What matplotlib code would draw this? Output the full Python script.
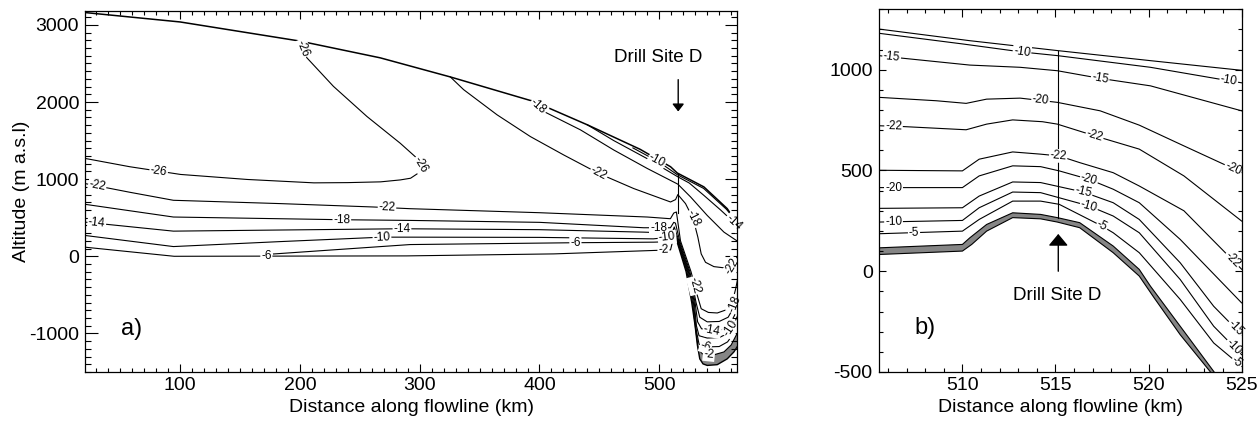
import numpy as np
import matplotlib
matplotlib.use("Agg")
import matplotlib.pyplot as plt
from matplotlib.ticker import MultipleLocator

plt.rcParams['font.family'] = ['Liberation Sans', 'DejaVu Sans']
plt.rcParams['axes.unicode_minus'] = False

# ---------------- panel a: whole flowline ----------------
surf_a_km = [20.6, 100, 200, 267, 325.6, 395, 440, 484, 509.4, 515, 537.2, 556.7, 566]
surf_a_m = [3160, 3038, 2790, 2573, 2325, 2008, 1704, 1387, 1161, 1080, 900, 618, 400]

c26_km = [200, 205.8, 228, 256, 283.8, 296.3, 300.5, 298.5, 292.4, 283.8, 267.4, 240, 211.7, 156, 100.4, 58, 20.6]
c26_m = [2790, 2574, 2203, 1812, 1465, 1291, 1182, 1075, 1012, 990, 965, 955, 952, 996, 1061, 1161, 1269]

c22_km = [20.6, 58, 94.4, 183.5, 261.5, 292, 400, 490, 509.3, 512.1, 514.3, 517.7, 526.5, 531.6, 535,
          541, 548.4, 556.7, 561.5, 563.8, 566]
c22_m = [943, 830, 726, 683, 639, 617, 565, 509, 487, 561, 574, 200, -200, -500, -680,
         -728, -735, -690, -560, -420, -250]

c18_km = [20.6, 94.4, 235, 292, 400, 487, 509.3, 512.1, 513.5, 517.0, 525.6, 530.7, 533.8, 540, 550,
          557.5, 561.5, 564, 566]
c18_m = [674, 509, 474, 465, 440, 370, 370, 440, 430, 200, -200, -600, -790, -850, -845,
         -790, -680, -580, -470]

c14_km = [20.6, 94.4, 285, 400, 487, 510.7, 512.5, 516.4, 524.9, 529.9, 532.0, 535.3, 544, 553, 559, 563, 566]
c14_m = [443, 326, 357, 345, 313, 300, 380, 200, -200, -600, -850, -940, -965, -950, -880, -760, -620]

c10_km = [20.6, 94.4, 183, 268.5, 292, 400, 495, 509.3, 512.5, 515.9, 524.3, 529.2, 531.0, 533.2, 540,
          550, 557, 562.5, 566]
c10_m = [270, 126, 190, 248, 248, 245, 226, 248, 330, 200, -200, -600, -900, -1030, -1060,
         -1055, -1000, -870, -750]

c6_km = [178, 292, 430, 495.5, 509.4, 512.5, 515.5, 523.7, 528.5, 530.8, 533.2, 540, 550, 557, 562.5, 566]
c6_m = [30, 152, 176, 183, 190, 300, 200, -200, -600, -950, -1140, -1175, -1170, -1110, -990, -880]

c2_km = [20.6, 95, 289, 412, 509.4, 512.5, 515.1, 523.1, 527.8, 530.4, 532.6, 536, 545, 554, 560, 566]
c2_m = [118, 0, 5, 31, 83, 280, 200, -200, -600, -950, -1200, -1265, -1280, -1240, -1150, -970]

bed_a_km = [512.5, 514.6, 522.4, 527.1, 529.9, 531.8, 533.8, 536.5, 540, 548.4, 556.7, 562.3, 566]
bed_a_m = [270, 200, -200, -600, -900, -1150, -1330, -1395, -1415, -1405, -1330, -1240, -1150]

# isotherms reaching down from the surface
t22_km = [325.6, 336.7, 364.6, 392.4, 420.3, 449.5, 478.7, 509.4, 513.6, 515.5, 521.9, 528.3, 532.2,
          535, 538.6, 545.6, 555.3, 560.5, 563.5, 566]
t22_m = [2325, 2160, 1834, 1552, 1313, 1074, 878, 704, 735, 800, 683, 487, 248,
         31, -78, -134, -152, -140, -60, 30]

t18_km = [393, 403.5, 434.2, 462, 489.9, 515.5, 526.1, 540, 554, 566.5]
t18_m = [2020, 1878, 1639, 1378, 1139, 935, 770, 530, 313, 183]

t14_km = [440, 462, 490, 515.5, 525, 537.2, 551.2, 562.3, 566]
t14_m = [1704, 1500, 1265, 1030, 950, 790, 600, 440, 395]

t10_km = [478, 500, 515, 537, 556, 563]
t10_m = [1405, 1220, 1058, 880, 610, 480]

drill_a_km = 515.5
drill_a_m = [1070, 560]

# (line, km, m, text) for the contour labels in panel a
labels_a = [
    ('c26', 200.3, 2682, '-26'), ('c26', 300.5, 1182, '-26'), ('c26', 81.9, 1082, '-26'),
    ('c22', 30.4, 880, '-22'), ('c22', 272.7, 631, '-22'), ('c22', 529.5, -380, '-22'),
    ('c18', 235, 474, '-18'), ('c18', 499.6, 372, '-18'), ('c18', 563.0, -620, '-18'),
    ('c14', 30.4, 422, '-14'), ('c14', 285.2, 357, '-14'), ('c14', 544, -962, '-14'),
    ('c10', 268.5, 248, '-10'), ('c10', 506.5, 240, '-10'), ('c10', 559.5, -935, '-10'),
    ('c6', 430, 176, '-6'), ('c6', 538.6, -1172, '-6'),
    ('c2', 172, 2, '-6'), ('c2', 503.5, 70, '-2'), ('c2', 541.4, -1272, '-2'),
    ('t22', 449.5, 1074, '-22'), ('t22', 528.3, 487, '-18'), ('t22', 560.8, -130, '-22'),
    ('t18', 398, 1920, '-18'),
    ('t14', 562.3, 444, '-14'),
    ('t10', 498, 1238, '-10'),
]

# ---------------- panel b: around Drill Site D ----------------
b_surf_km = [505.5, 510.4, 515.1, 520.1, 525]
b_surf_m = [1202, 1144, 1095, 1045, 997]
b_c10u_km = [505.5, 510, 513.2, 515.1, 520.1, 523.7, 525]
b_c10u_m = [1181, 1128, 1088, 1070, 1012, 955, 935]
b_c15u_km = [505.5, 506.8, 510.4, 513.1, 515.1, 517.4, 520.1, 525]
b_c15u_m = [1070, 1057, 1023, 1012, 995, 957, 920, 796]
b_c20u_km = [505.5, 508.6, 510.2, 511.3, 513.1, 515.1, 517.4, 519.5, 521.9, 525]
b_c20u_m = [863, 846, 833, 854, 859, 838, 796, 725, 622, 490]
b_c22u_km = [505.5, 506.8, 510.2, 511.3, 512.7, 514.3, 515.1, 517.1, 519.5, 521.9, 525]
b_c22u_m = [722, 718, 702, 730, 751, 742, 730, 672, 606, 473, 249]
b_c22l_km = [505.5, 510, 510.9, 512.7, 514.2, 515.2, 516.3, 518.1, 519.5, 521.9, 525]
b_c22l_m = [501, 498, 556, 592, 581, 572, 539, 489, 423, 300, 10]
b_c20l_km = [505.5, 510, 510.9, 512.7, 514.2, 515.2, 516.8, 518.1, 519.5, 521.7, 525]
b_c20l_m = [415, 415, 473, 523, 519, 498, 456, 407, 340, 158, -157]
b_c15l_km = [505.5, 510, 510.9, 512.7, 514.2, 516.5, 518.1, 519.5, 521.7, 523.5, 525]
b_c15l_m = [312, 315, 373, 443, 440, 393, 340, 257, 42, -174, -315]
b_c10l_km = [505.5, 510, 510.9, 512.7, 514.2, 516.8, 518.1, 519.5, 521.7, 523.5, 525]
b_c10l_m = [244, 252, 315, 393, 390, 324, 274, 191, -41, -273, -414]
b_c5l_km = [505.5, 510, 510.9, 512.7, 514.2, 515.2, 517.5, 518.1, 519.5, 521.7, 523.5, 525]
b_c5l_m = [186, 199, 257, 348, 348, 332, 224, 191, 92, -140, -356, -472]
b_bedtop_km = [505.5, 510, 510.4, 511.3, 512.7, 514.2, 515.1, 516.3, 518.1, 519.5, 520.1, 521.7, 523.5, 525]
b_bedtop_m = [116, 133, 166, 232, 290, 282, 266, 241, 125, 9, -74, -273, -497, -700]
b_bedbot_km = [505.5, 510, 510.5, 511.3, 512.7, 514.2, 515.1, 516.3, 518.1, 519.5, 520.3, 521.7, 523.3, 525]
b_bedbot_m = [83, 100, 133, 199, 266, 260, 244, 216, 92, -24, -132, -315, -497, -760]

drill_b_km = 515.15
drill_b_m = [1095, 266]

labels_b = [
    ('c10u', 513.2, 1088, '-10'), ('c10u', 524.3, 940, '-10'),
    ('c15u', 506.2, 1064, '-15'), ('c15u', 517.4, 957, '-15'),
    ('c20u', 514.2, 849, '-20'), ('c20u', 524.5, 500, '-20'),
    ('c22u', 506.3, 720, '-22'), ('c22u', 517.1, 672, '-22'),
    ('c22l', 515.15, 572, '-22'), ('c22l', 524.4, 47, '-22'),
    ('c20l', 506.3, 415, '-20'), ('c20l', 516.8, 456, '-20'),
    ('c15l', 516.5, 393, '-15'), ('c15l', 524.5, -298, '-15'),
    ('c10l', 506.3, 246, '-10'), ('c10l', 516.8, 324, '-10'), ('c10l', 524.5, -381, '-10'),
    ('c5l', 507.4, 191, '-5'), ('c5l', 517.5, 224, '-5'), ('c5l', 524.6, -468, '-5'),
]


def place_label(ax, xs, ys, x0, y0, txt, fs=8.5):
    # snap the label onto the nearest segment and turn it along the line
    P = ax.transData.transform(np.column_stack([xs, ys]))
    q = ax.transData.transform((x0, y0))
    best = None
    for k in range(len(P) - 1):
        a, d = P[k], P[k + 1] - P[k]
        L2 = d @ d
        t = 0.0 if L2 == 0 else np.clip((q - a) @ d / L2, 0, 1)
        p = a + t * d
        dist = np.hypot(*(q - p))
        if best is None or dist < best[0]:
            best = (dist, p, d)
    _, p, d = best
    ang = np.degrees(np.arctan2(d[1], d[0]))
    if ang > 90:
        ang -= 180
    elif ang < -90:
        ang += 180
    x, y = ax.transData.inverted().transform(p)
    ax.text(x, y, txt, fontsize=fs, rotation=ang, rotation_mode='anchor',
            ha='center', va='center', zorder=2.4,
            bbox=dict(fc='white', ec='none', pad=0.6))


def style_axes(ax, xmaj, xmin, ymaj, ymin, ylen):
    ax.xaxis.set_major_locator(MultipleLocator(xmaj))
    ax.xaxis.set_minor_locator(MultipleLocator(xmin))
    ax.yaxis.set_major_locator(MultipleLocator(ymaj))
    ax.yaxis.set_minor_locator(MultipleLocator(ymin))
    ax.tick_params(which='both', direction='in', top=True, right=True, width=0.8,
                   labelsize=14)
    ax.tick_params(axis='x', which='major', length=5.5, pad=3.5)
    ax.tick_params(axis='x', which='minor', length=2.8)
    ax.tick_params(axis='y', which='major', length=ylen, pad=4.3)
    ax.tick_params(axis='y', which='minor', length=ylen / 2)
    for s in ax.spines.values():
        s.set_linewidth(0.9)


fig = plt.figure(figsize=(12.59, 4.23), dpi=100)
lw = 0.8

# ---- panel a ----
ax = fig.add_axes([0.0675, 0.1206, 0.518, 0.8534])
ax.set_xlim(20.6, 565)
ax.set_ylim(-1500, 3180)
style_axes(ax, 100, 10, 1000, 100, 9.0)

lines_a = {
    'c26': (c26_km, c26_m), 'c22': (c22_km, c22_m), 'c18': (c18_km, c18_m),
    'c14': (c14_km, c14_m), 'c10': (c10_km, c10_m), 'c6': (c6_km, c6_m),
    'c2': (c2_km, c2_m), 't22': (t22_km, t22_m), 't18': (t18_km, t18_m),
    't14': (t14_km, t14_m), 't10': (t10_km, t10_m),
}

# temperate basal layer in the trough
c2m = np.array(c2_m)
bm = np.array(bed_a_m)
sel2 = c2m <= -900
selb = bm <= -900
gx = np.r_[np.array(c2_km)[sel2], np.array(bed_a_km)[selb][::-1]]
gy = np.r_[c2m[sel2], bm[selb][::-1]]
ax.fill(gx, gy, color='#858585', lw=0, zorder=1)

ax.plot(surf_a_km, surf_a_m, color='black', lw=1.1, zorder=2)
ax.plot(bed_a_km, bed_a_m, color='black', lw=1.0, zorder=2)
for xs, ys in lines_a.values():
    ax.plot(xs, ys, color='black', lw=lw, zorder=2)
ax.plot([drill_a_km, drill_a_km], drill_a_m, color='black', lw=lw, zorder=2)

for name, x0, y0, txt in labels_a:
    xs, ys = lines_a[name]
    place_label(ax, xs, ys, x0, y0, txt)

ax.annotate('', xy=(515.8, 1877), xytext=(515.8, 2290),
            arrowprops=dict(arrowstyle='-|>,head_width=0.35,head_length=0.45',
                            color='black', lw=1.0, mutation_scale=10, shrinkA=0, shrinkB=0))
ax.text(499, 2573, 'Drill Site D', fontsize=13.5, ha='center', va='center')
ax.text(59.6, -947, 'a)', fontsize=17, ha='center', va='center')

ax.set_xlabel('Distance along flowline (km)', fontsize=14)
ax.set_ylabel('Altitude (m a.s.l)', fontsize=14)
ax.xaxis.set_label_coords(0.5, -0.075)
ax.yaxis.set_label_coords(-0.084, 0.5)

# ---- panel b ----
bx = fig.add_axes([0.6979, 0.1206, 0.2883, 0.8575])
bx.set_xlim(505.5, 525)
bx.set_ylim(-500, 1300)
style_axes(bx, 5, 1, 500, 100, 5.3)

lines_b = {
    'c10u': (b_c10u_km, b_c10u_m), 'c15u': (b_c15u_km, b_c15u_m),
    'c20u': (b_c20u_km, b_c20u_m), 'c22u': (b_c22u_km, b_c22u_m),
    'c22l': (b_c22l_km, b_c22l_m), 'c20l': (b_c20l_km, b_c20l_m),
    'c15l': (b_c15l_km, b_c15l_m), 'c10l': (b_c10l_km, b_c10l_m),
    'c5l': (b_c5l_km, b_c5l_m),
}

bx.fill(np.r_[b_bedtop_km, b_bedbot_km[::-1]], np.r_[b_bedtop_m, b_bedbot_m[::-1]],
        facecolor='#858585', edgecolor='black', lw=0.8, zorder=1)
bx.plot(b_surf_km, b_surf_m, color='black', lw=lw, zorder=2)
for xs, ys in lines_b.values():
    bx.plot(xs, ys, color='black', lw=lw, zorder=2)
bx.plot([drill_b_km, drill_b_km], drill_b_m, color='black', lw=lw, zorder=2)

for name, x0, y0, txt in labels_b:
    xs, ys = lines_b[name]
    place_label(bx, xs, ys, x0, y0, txt)

bx.annotate('', xy=(drill_b_km, 185), xytext=(drill_b_km, 0),
            arrowprops=dict(arrowstyle='-|>,head_width=0.3,head_length=0.36',
                            color='black', lw=1.0, mutation_scale=20, shrinkA=0, shrinkB=0))
bx.text(515.1, -121, 'Drill Site D', fontsize=13.5, ha='center', va='center')
bx.text(508.0, -282, 'b)', fontsize=17, ha='center', va='center')

bx.set_xlabel('Distance along flowline (km)', fontsize=14)
bx.xaxis.set_label_coords(0.5, -0.075)

fig.savefig('out.png', dpi=100)
